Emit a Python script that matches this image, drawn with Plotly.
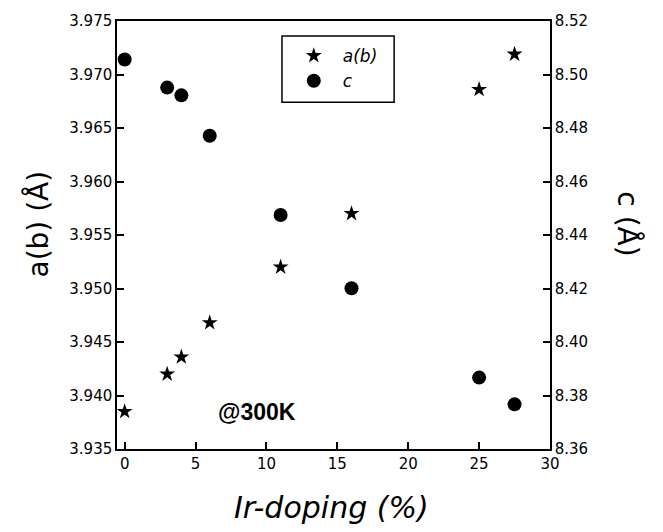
import plotly.graph_objects as go

# Lattice parameters vs. Ir doping at 300 K
doping = [0, 3, 4, 6, 11, 16, 25, 27.5]
a_b = [3.9385, 3.9420, 3.9436, 3.9468, 3.9520, 3.9570, 3.9686, 3.9719]
c_axis = [8.5056, 8.4951, 8.4922, 8.4771, 8.4475, 8.4201, 8.3867, 8.3767]

x_ticks = [0, 5, 10, 15, 20, 25, 30]
ab_ticks = [3.935, 3.940, 3.945, 3.950, 3.955, 3.960, 3.965, 3.970, 3.975]
c_ticks = [8.36, 8.38, 8.40, 8.42, 8.44, 8.46, 8.48, 8.50, 8.52]

FONT = "DejaVu Sans"

fig = go.Figure()
fig.add_trace(go.Scatter(
    x=doping, y=a_b, mode="markers", name="<i>a(b)</i>",
    marker=dict(symbol="star", size=12, color="black"),
    yaxis="y",
))
fig.add_trace(go.Scatter(
    x=doping, y=c_axis, mode="markers", name="<i>c</i>",
    marker=dict(symbol="circle", size=14, color="black"),
    yaxis="y2",
))

axis_common = dict(
    showgrid=False, zeroline=False, showline=True, linecolor="black",
    linewidth=1.5, ticks="inside", ticklen=7, tickwidth=1.5, tickcolor="black",
    tickfont=dict(family=FONT, size=15, color="black"),
)

fig.update_layout(
    width=663, height=532,
    margin=dict(l=117, r=113, t=17, b=83),
    paper_bgcolor="white", plot_bgcolor="white",
    showlegend=True,
    legend=dict(
        x=0.3875, y=0.96, xanchor="left", yanchor="top",
        bgcolor="rgba(0,0,0,0)", borderwidth=0,
        itemwidth=48,
        font=dict(family=FONT, size=17, color="black"),
    ),
    xaxis=dict(range=[-0.54, 30], tickvals=x_ticks, mirror=True, **axis_common),
    yaxis=dict(range=[3.935, 3.975], tickvals=ab_ticks, tickformat=".3f",
               **axis_common),
    yaxis2=dict(range=[8.36, 8.52], tickvals=c_ticks, tickformat=".2f",
                overlaying="y", side="right", **axis_common),
    shapes=[dict(type="rect", xref="paper", yref="paper",
                 x0=0.381, x1=0.640, y0=0.810, y1=0.965,
                 line=dict(color="black", width=1.5))],
    annotations=[
        dict(text="@300K", x=9.33, y=3.9385, xref="x", yref="y",
             xanchor="center", yanchor="middle", showarrow=False,
             font=dict(family="Liberation Sans", size=23, color="black",
                       weight="bold")),
        dict(text="a(b) (Å)", x=-0.182, y=0.525, xref="paper", yref="paper",
             xanchor="center", yanchor="middle",
             textangle=-90, showarrow=False,
             font=dict(family=FONT, size=28, color="black")),
        dict(text="c (Å)", x=1.180, y=0.525, xref="paper", yref="paper",
             xanchor="center", yanchor="middle",
             textangle=90, showarrow=False,
             font=dict(family=FONT, size=28, color="black")),
        dict(text="<i>Ir-doping (%)</i>", x=0.4965, y=-0.1366,
             xref="paper", yref="paper", xanchor="center", yanchor="middle",
             showarrow=False,
             font=dict(family=FONT, size=30, color="black")),
    ],
)

fig.write_html("out.html")
